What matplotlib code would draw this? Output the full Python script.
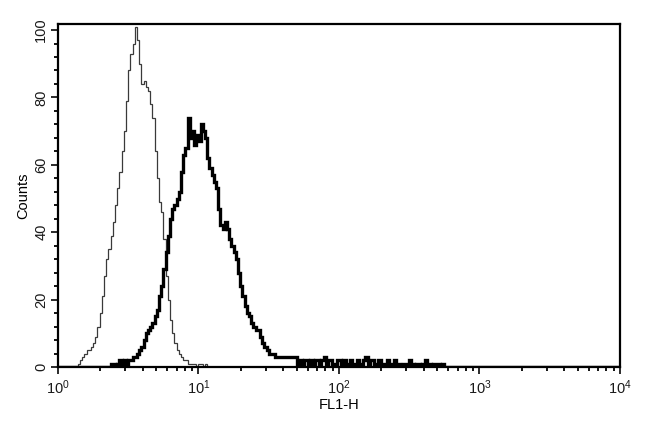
import numpy as np
import matplotlib.pyplot as plt
from matplotlib.ticker import FixedLocator, MultipleLocator, LogLocator, NullFormatter

plt.rcParams['font.family'] = ['Liberation Sans', 'DejaVu Sans']

# 256 log channels over 4 decades (FL1-H)
n_channels = 256

# isotype control (thin line), counts from channel 8 on
thin_start = 8
thin_counts = [0, 1, 2, 3, 4, 5, 5, 6, 7, 9, 12, 16, 21, 27, 32, 35, 39, 43, 48, 53,
               58, 64, 70, 79, 88, 93, 96, 101, 97, 90, 84, 85, 83, 82, 78, 74, 64, 56,
               49, 46, 38, 27, 20, 14, 10, 7, 5, 4, 3, 2, 2, 1, 1, 1, 1, 0, 1, 1, 0, 1, 0]

# stained sample (thick line), counts from channel 24 on
thick_start = 24
thick_counts = [1, 1, 0, 1, 2, 1, 2, 1, 2, 2, 3, 3, 4, 5, 6, 8, 10, 11, 12, 13,
                15, 17, 21, 24, 29, 34, 39, 44, 47, 48, 50, 52, 58, 63, 65, 74, 68, 70,
                66, 69, 67, 72, 70, 68, 62, 59, 57, 55, 53, 47, 42, 41, 43, 41, 38, 36,
                34, 32, 28, 24, 21, 18, 16, 15, 13, 12, 11, 11, 9, 7, 6, 5, 4, 4, 4, 3, 3,
                3, 3, 3, 3, 3, 3, 3, 3, 1, 2, 1, 2, 2, 1, 2, 1, 2, 2, 1, 2, 3, 1, 2,
                2, 1, 1, 2, 2, 1, 2, 1, 1, 2, 1, 1, 2, 1, 1, 2, 3, 1, 2, 2, 1, 1, 2, 1, 1,
                1, 2, 1, 1, 2, 1, 1, 0, 1, 1, 1, 2, 1, 0, 1, 1, 0, 1, 2, 1, 1, 0, 1, 1,
                1, 0, 1]

edges = np.logspace(0, 4, n_channels + 1)


def full(start, counts):
    h = np.zeros(n_channels)
    h[start:start + len(counts)] = counts
    return h


fig = plt.figure(figsize=(6.5, 4.24), dpi=100)
ax = fig.add_axes([0.0892, 0.1344, 0.8646, 0.809])

ax.stairs(full(thin_start, thin_counts), edges, color='#3a3a3a', linewidth=0.9)
ax.stairs(full(thick_start, thick_counts), edges, color='black', linewidth=2.4)

ax.set_xscale('log')
ax.set_xlim(1, 1e4)
ax.set_ylim(0, 101.8)

ax.xaxis.set_major_locator(FixedLocator([1, 10, 100, 1000, 10000]))
ax.xaxis.set_minor_locator(LogLocator(base=10, subs=np.arange(2, 10)))
ax.xaxis.set_minor_formatter(NullFormatter())
ax.yaxis.set_major_locator(MultipleLocator(20))
ax.yaxis.set_minor_locator(MultipleLocator(4))

ax.tick_params(axis='both', which='major', direction='out', length=5, width=1.3,
               labelsize=10.5, colors='#1a1a1a')
ax.tick_params(axis='both', which='minor', direction='out', length=3, width=1.3)
ax.tick_params(axis='x', pad=3)
ax.tick_params(axis='y', pad=2)
for lab in ax.get_yticklabels():
    lab.set_rotation(90)
    lab.set_va('center')

for s in ax.spines.values():
    s.set_linewidth(1.6)

ax.set_xlabel('FL1-H', fontsize=10.5, labelpad=1)
ax.set_ylabel('Counts', fontsize=10.5, labelpad=3)

plt.savefig('out.png', dpi=100)
